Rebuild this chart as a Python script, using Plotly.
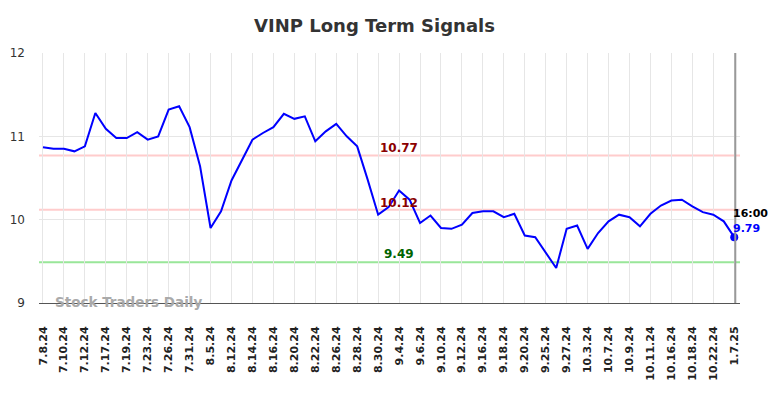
import plotly.graph_objects as go

dates = ["7.8.24","7.9.24","7.10.24","7.11.24","7.12.24","7.16.24","7.17.24","7.18.24","7.19.24","7.22.24",
         "7.23.24","7.25.24","7.26.24","7.30.24","7.31.24","8.2.24","8.5.24","8.7.24","8.12.24","8.13.24",
         "8.14.24","8.15.24","8.16.24","8.19.24","8.20.24","8.21.24","8.22.24","8.23.24","8.26.24","8.27.24",
         "8.28.24","8.29.24","8.30.24","9.3.24","9.4.24","9.5.24","9.6.24","9.9.24","9.10.24","9.11.24",
         "9.12.24","9.13.24","9.16.24","9.17.24","9.18.24","9.19.24","9.20.24","9.24.24","9.25.24","9.26.24",
         "9.27.24","10.1.24","10.3.24","10.4.24","10.7.24","10.8.24","10.9.24","10.10.24","10.11.24","10.15.24",
         "10.16.24","10.17.24","10.18.24","10.21.24","10.22.24","10.24.24","1.7.25"]

prices = [10.87,10.85,10.85,10.82,10.88,11.28,11.09,10.98,10.98,11.05,
          10.96,11.00,11.32,11.36,11.11,10.64,9.90,10.10,10.47,10.72,
          10.96,11.04,11.11,11.27,11.21,11.24,10.94,11.06,11.15,11.00,
          10.88,10.48,10.06,10.15,10.35,10.24,9.96,10.05,9.90,9.89,
          9.94,10.08,10.10,10.10,10.03,10.07,9.81,9.79,9.60,9.42,
          9.89,9.93,9.65,9.84,9.98,10.06,10.03,9.92,10.07,10.17,
          10.23,10.24,10.16,10.09,10.06,9.98,9.79]

tick_labels = dates[0:65:2] + [dates[-1]]

resistance_high = 10.77
resistance_low = 10.12
support = 9.49
last_time = "16:00"
title = "VINP Long Term Signals"
watermark = "Stock Traders Daily"

FONT = "DejaVu Sans"
W, H = 776, 382  # page body has an 8px margin inside the 784x398 window

fig = go.Figure()
fig.add_trace(go.Scatter(x=dates, y=prices, mode="lines",
                         line=dict(color="#0000ff", width=2), hoverinfo="skip"))
fig.add_trace(go.Scatter(x=[dates[-1]], y=[prices[-1]], mode="markers",
                         marker=dict(color="#0000ff", size=8), hoverinfo="skip"))

for lvl, col in [(resistance_high, "#ffcccc"), (resistance_low, "#ffcccc"), (support, "#99e699")]:
    fig.add_shape(type="line", xref="paper", x0=0, x1=1, yref="y", y0=lvl, y1=lvl,
                  line=dict(color=col, width=2), layer="below")

fig.add_shape(type="line", xref="x", x0=66.1, x1=66.1, yref="paper", y0=0, y1=1,
              line=dict(color="#999999", width=2))

label_x = dates[34]
fig.add_annotation(x=label_x, y=resistance_high, text=f"<b>{resistance_high:.2f}</b>", showarrow=False,
                   yshift=8, font=dict(color="#8b0000", size=12, family=FONT))
fig.add_annotation(x=label_x, y=resistance_low, text=f"<b>{resistance_low:.2f}</b>", showarrow=False,
                   yshift=7, font=dict(color="#8b0000", size=12, family=FONT))
fig.add_annotation(x=label_x, y=support, text=f"<b>{support:.2f}</b>", showarrow=False,
                   yshift=8, font=dict(color="#006400", size=12, family=FONT))

fig.add_annotation(x=dates[-1], y=prices[-1], text=f"<b>{last_time}</b>", showarrow=False,
                   xanchor="left", xshift=-3, yshift=24, font=dict(color="#000000", size=11, family=FONT))
fig.add_annotation(x=dates[-1], y=prices[-1], text=f"<b>{prices[-1]:.2f}</b>", showarrow=False,
                   xanchor="left", xshift=-3, yshift=9, font=dict(color="#0000ff", size=11, family=FONT))

fig.add_annotation(xref="paper", yref="paper", x=0.02, y=0.0, xanchor="left", yanchor="middle",
                   text=f"<b>{watermark}</b>", showarrow=False, yshift=1,
                   font=dict(color="#aaaaaa", size=13.5, family=FONT))

fig.update_layout(
    width=W, height=H,
    margin=dict(l=31, r=44, t=45, b=87, autoexpand=False),
    paper_bgcolor="white", plot_bgcolor="white",
    showlegend=False,
    title=dict(text=f"<b>{title}</b>", x=366.5 / W, xanchor="center", xref="container",
               y=1 - 18 / H, yanchor="middle", yref="container",
               font=dict(family=FONT, size=18, color="#333333")),
    xaxis=dict(type="category", range=[-0.38, 66.55], tickmode="array", tickvals=tick_labels,
               ticktext=[f"<b>{t}</b>" for t in tick_labels], tickangle=-90, automargin=False,
               tickfont=dict(family=FONT, size=11, color="#222222"), ticklabelstandoff=18,
               showgrid=True, gridcolor="#e6e6e6", gridwidth=1,
               showline=True, linecolor="#555555", linewidth=1, ticks="", zeroline=False),
    yaxis=dict(range=[9, 12], tickvals=[9, 10, 11, 12], showgrid=True, gridcolor="#e6e6e6",
               tickfont=dict(family=FONT, size=12, color="#333333"), ticks="", automargin=False,
               ticklabelstandoff=13, zeroline=False, showline=False),
)

fig.write_html("out.html")
